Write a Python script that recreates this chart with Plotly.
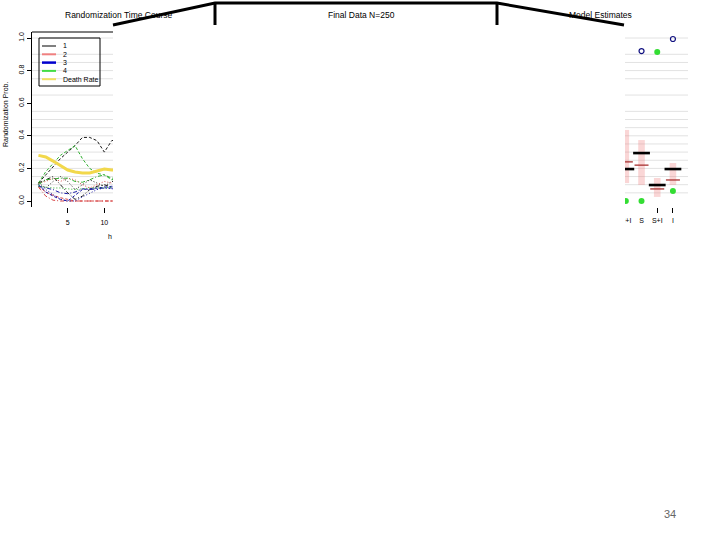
import plotly.graph_objects as go

W, H = 720, 540
def px(x):
    return x / W
def py(y):
    return 1 - y / H

FONT = "Liberation Sans, Arial, sans-serif"

# ---------------- Left panel: Randomization Time Course ----------------
steps = list(range(1, 13))
death_rate = [0.28, 0.27, 0.245, 0.215, 0.19, 0.178, 0.172, 0.172, 0.184, 0.196, 0.19, 0.19]

arm_names = ["1", "2", "3", "4"]
arm1_sims = [
    [0.11, 0.16, 0.21, 0.26, 0.30, 0.34, 0.39, 0.39, 0.37, 0.30, 0.37, 0.38],
    [0.11, 0.08, 0.12, 0.15, 0.12, 0.07, 0.10, 0.13, 0.11, 0.09, 0.12, 0.12],
    [0.11, 0.13, 0.15, 0.10, 0.05, 0.01, 0.03, 0.07, 0.09, 0.10, 0.085, 0.085],
]
arm2_sims = [
    [0.09, 0.055, 0.035, 0.02, 0.01, 0.0, 0.0, 0.0, 0.0, 0.0, 0.0, 0.0],
    [0.11, 0.12, 0.14, 0.12, 0.14, 0.13, 0.10, 0.08, 0.10, 0.12, 0.11, 0.11],
    [0.085, 0.03, 0.005, 0.0, 0.0, 0.0, 0.0, 0.0, 0.0, 0.0, 0.0, 0.0],
]
arm3_sims = [
    [0.10, 0.055, 0.03, 0.01, 0.0, 0.035, 0.07, 0.075, 0.08, 0.085, 0.09, 0.09],
    [0.10, 0.07, 0.04, 0.01, 0.0, 0.0, 0.025, 0.05, 0.07, 0.08, 0.075, 0.075],
    [0.09, 0.08, 0.07, 0.05, 0.045, 0.055, 0.075, 0.07, 0.075, 0.08, 0.08, 0.08],
]
arm4_sims = [
    [0.11, 0.18, 0.23, 0.28, 0.31, 0.34, 0.26, 0.20, 0.17, 0.16, 0.13, 0.14],
    [0.09, 0.085, 0.08, 0.08, 0.075, 0.07, 0.075, 0.08, 0.08, 0.08, 0.085, 0.085],
    [0.10, 0.13, 0.135, 0.14, 0.14, 0.12, 0.115, 0.13, 0.15, 0.16, 0.14, 0.14],
]
left_yticks = [0.0, 0.2, 0.4, 0.6, 0.8, 1.0]
left_yticktext = ["0.0", "0.2", "0.4", "0.6", "0.8", "1.0"]
left_xticks = [5, 10, 15, 20]
grid_levels = [0.05, 0.1, 0.15, 0.2, 0.25, 0.3, 0.35, 0.4, 0.45, 0.5, 0.55,
               0.65, 0.75, 0.8, 0.85, 0.9, 1.0]

# ---------------- Right panel: Model Estimates ----------------
est_labels = ["C+I", "S", "S+I", "I"]
band_lo = [0.11, 0.098, 0.025, 0.098]
band_hi = [0.436, 0.374, 0.141, 0.233]
mean_est = [0.196, 0.294, 0.098, 0.196]
median_est = [0.24, 0.22, 0.074, 0.129]
green_vals = [0.0, 0.0, 0.914, 0.061]
blue_vals = [None, 0.92, None, 0.994]

# ---------------- styles ----------------
arm_colors = ["#1A1A1A", "#D84848", "#1A1AA8", "#30B030"]
sim_dashes = ["3px,2px", "1px,2px", "4px,2px,1px,2px"]
legend_colors = ["#000000", "#F08080", "#0000CD", "#44DD44", "#F0E060"]
legend_widths = [1, 2, 2.5, 2, 2]

fig = go.Figure()

all_arms = [arm1_sims, arm2_sims, arm3_sims, arm4_sims]
for a, sims in enumerate(all_arms):
    for s, vals in enumerate(sims):
        fig.add_trace(go.Scatter(
            x=steps, y=vals, mode="lines", showlegend=False,
            line=dict(color=arm_colors[a], width=1, dash=sim_dashes[s]),
            xaxis="x", yaxis="y", hoverinfo="skip"))

fig.add_trace(go.Scatter(
    x=steps, y=death_rate, mode="lines", showlegend=False,
    line=dict(color="#F2D84B", width=3), xaxis="x", yaxis="y"))

idx = list(range(len(est_labels)))
fig.add_trace(go.Bar(
    x=idx, base=band_lo, y=[h - l for h, l in zip(band_hi, band_lo)],
    width=0.42, marker=dict(color="rgba(240,120,120,0.30)", line=dict(width=0)),
    showlegend=False, xaxis="x2", yaxis="y2"))
fig.add_trace(go.Scatter(
    x=idx, y=median_est, mode="markers", showlegend=False,
    marker=dict(symbol="line-ew", size=10, line=dict(color="#A83232", width=1.3)),
    xaxis="x2", yaxis="y2"))
fig.add_trace(go.Scatter(
    x=idx, y=mean_est, mode="markers", showlegend=False,
    marker=dict(symbol="line-ew", size=12, line=dict(color="#000000", width=2.6)),
    xaxis="x2", yaxis="y2"))
fig.add_trace(go.Scatter(
    x=idx, y=green_vals, mode="markers", showlegend=False,
    marker=dict(symbol="circle", size=6, color="#33DD33"),
    xaxis="x2", yaxis="y2"))
fig.add_trace(go.Scatter(
    x=idx, y=blue_vals, mode="markers", showlegend=False,
    marker=dict(symbol="circle-open", size=5, color="#101080", line=dict(width=1.2)),
    xaxis="x2", yaxis="y2"))

shapes = []
# gridlines (both panels)
for xr, yr in [("x domain", "y"), ("x2 domain", "y2")]:
    for g in grid_levels:
        shapes.append(dict(type="line", xref=xr, yref=yr, x0=0, x1=1, y0=g, y1=g,
                           line=dict(color="#E2E2E2", width=1), layer="below"))
# top frame line of left panel
shapes.append(dict(type="line", xref="x domain", yref="y domain", x0=0, x1=1, y0=1, y1=1,
                   line=dict(color="black", width=1)))

# legend box (left panel)
shapes.append(dict(type="rect", xref="paper", yref="paper",
                   x0=px(39), x1=px(100), y0=py(86), y1=py(38),
                   line=dict(color="black", width=1), fillcolor="rgba(0,0,0,0)"))
legend_labels = arm_names + ["Death Rate"]
annotations = []
for i, lab in enumerate(legend_labels):
    yy = 46 + i * 8.3
    shapes.append(dict(type="line", xref="paper", yref="paper",
                       x0=px(42), x1=px(56), y0=py(yy), y1=py(yy),
                       line=dict(color=legend_colors[i], width=legend_widths[i])))
    annotations.append(dict(x=px(61), y=py(yy), xref="paper", yref="paper", text=lab,
                            showarrow=False, xanchor="left", yanchor="middle",
                            font=dict(family=FONT, size=7, color="black")))

# white overlay and black callout frame
shapes.append(dict(type="rect", xref="paper", yref="paper",
                   x0=px(113), x1=px(625), y0=py(540), y1=py(26),
                   fillcolor="white", line=dict(width=0), layer="above"))
shapes.append(dict(type="path", xref="paper", yref="paper",
                   path=f"M {px(113)},{py(25)} L {px(215)},{py(3)} L {px(497)},{py(3)} L {px(624)},{py(25)}",
                   line=dict(color="black", width=3), layer="above"))
for xv in (215, 497):
    shapes.append(dict(type="line", xref="paper", yref="paper",
                       x0=px(xv), x1=px(xv), y0=py(3), y1=py(25),
                       line=dict(color="black", width=3), layer="above"))

# titles & texts
for txt, cx in [("Randomization Time Course", 119), ("Final Data N=250", 361), ("Model Estimates", 600)]:
    annotations.append(dict(x=px(cx), y=py(15), xref="paper", yref="paper", text=txt,
                            showarrow=False, xanchor="center", yanchor="middle",
                            font=dict(family=FONT, size=8.5, color="black")))
annotations.append(dict(x=px(5), y=py(115), xref="paper", yref="paper", text="Randomization Prob.",
                        showarrow=False, textangle=-90, xanchor="center", yanchor="middle",
                        font=dict(family=FONT, size=7, color="black")))
annotations.append(dict(x=px(110), y=py(236), xref="paper", yref="paper", text="h",
                        showarrow=False, xanchor="center", yanchor="middle",
                        font=dict(family=FONT, size=7, color="black")))
annotations.append(dict(x=px(670), y=py(514), xref="paper", yref="paper", text="34",
                        showarrow=False, xanchor="center", yanchor="middle",
                        font=dict(family=FONT, size=11, color="#666666")))

fig.update_layout(
    width=W, height=H, margin=dict(l=0, r=0, t=0, b=0),
    paper_bgcolor="white", plot_bgcolor="white", showlegend=False,
    barmode="overlay", hovermode=False,
    font=dict(family=FONT, size=7, color="black"),
    xaxis=dict(domain=[px(32), px(206)], range=[0.12, 23.88], tickvals=left_xticks,
               ticks="outside", ticklen=5, tickcolor="black", showgrid=False,
               zeroline=False, showline=False, tickfont=dict(size=7), anchor="y",
               ticklabelstandoff=4),
    yaxis=dict(domain=[py(207), py(32)], range=[-0.0368, 1.0368], tickvals=left_yticks,
               ticktext=left_yticktext, tickangle=-90, ticks="outside", ticklen=4,
               tickcolor="black", showgrid=False, zeroline=False, showline=True,
               linecolor="black", linewidth=1, tickfont=dict(size=7), anchor="x"),
    xaxis2=dict(domain=[px(512), px(688)], range=[-7.25, 3.96], tickvals=idx,
                ticktext=est_labels, ticks="", showgrid=False, zeroline=False,
                showline=False, tickfont=dict(size=7), anchor="y2",
                ticklabelstandoff=8,
                minor=dict(tickmode="array", tickvals=idx[-2:], ticks="outside",
                           ticklen=5, tickcolor="black", showgrid=False)),
    yaxis2=dict(domain=[py(207), py(32)], range=[-0.0368, 1.0368], showticklabels=False,
                ticks="", showgrid=False, zeroline=False, showline=False, anchor="x2"),
    shapes=shapes, annotations=annotations,
)

fig.write_html("out.html", config={"displayModeBar": False, "staticPlot": True},
               post_script="document.body.style.margin='0';document.body.style.padding='0';")
